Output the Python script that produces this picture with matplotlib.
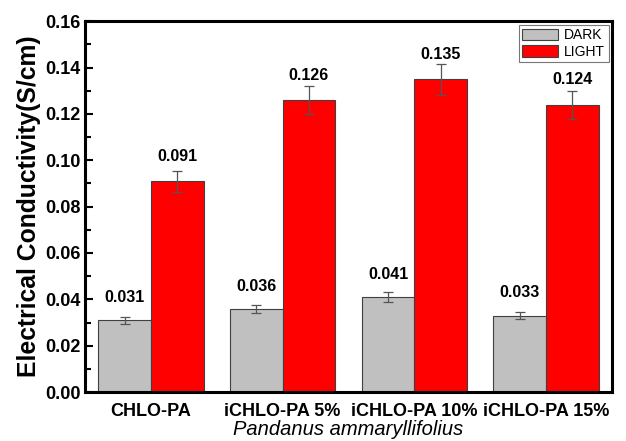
import numpy as np
import matplotlib
matplotlib.use("Agg")
import matplotlib.pyplot as plt
from matplotlib.ticker import MultipleLocator

plt.rcParams['font.family'] = ['Liberation Sans', 'DejaVu Sans']

samples = ["CHLO-PA", "iCHLO-PA 5%", "iCHLO-PA 10%", "iCHLO-PA 15%"]
dark = [0.031, 0.036, 0.041, 0.033]
light = [0.091, 0.126, 0.135, 0.124]
dark_err = [0.0015, 0.0017, 0.002, 0.0015]
light_err = [0.0045, 0.006, 0.0067, 0.006]

fig = plt.figure(figsize=(6.26, 4.41), dpi=100)
ax = fig.add_axes([0.1358, 0.111, 0.8418, 0.841])

x = np.arange(1, len(samples) + 1)
w = 0.4
err_kw = dict(ecolor='#555555', elinewidth=0.9, capsize=3.5, capthick=0.9)
ax.bar(x - w / 2, dark, w, yerr=dark_err, color='#C0C0C0', edgecolor='#404040',
       linewidth=0.8, error_kw=err_kw, label='DARK')
ax.bar(x + w / 2, light, w, yerr=light_err, color='#FF0000', edgecolor='#404040',
       linewidth=0.8, error_kw=err_kw, label='LIGHT')

# value labels above each bar
for xi, v in zip(x - w / 2, dark):
    ax.text(xi, v + 0.0065, f"{v:.3f}", ha='center', va='bottom',
            fontsize=11.5, fontweight='bold')
for xi, v in zip(x + w / 2, light):
    ax.text(xi, v + 0.0075, f"{v:.3f}", ha='center', va='bottom',
            fontsize=11.5, fontweight='bold')

ax.set_xlim(0.5, 4.5)
ax.set_ylim(0, 0.16)
ax.set_xticks(x)
ax.set_xticklabels(samples, fontsize=13, fontweight='bold')
ax.yaxis.set_major_locator(MultipleLocator(0.02))
ax.yaxis.set_minor_locator(MultipleLocator(0.01))
ax.set_yticks(ax.get_yticks())
ax.set_yticklabels([f"{t:.2f}" for t in ax.get_yticks()], fontsize=13, fontweight='bold')
ax.set_ylim(0, 0.16)
ax.tick_params(axis='y', which='major', direction='in', length=6, width=1.5, pad=3)
ax.tick_params(axis='y', which='minor', direction='in', length=4, width=1.5)
ax.tick_params(axis='x', which='both', length=0, pad=8)

for s in ax.spines.values():
    s.set_linewidth(2.2)

ax.set_ylabel("Electrical Conductivity(S/cm)", fontsize=17.8, fontweight='bold', labelpad=3)
ax.set_xlabel("Pandanus ammaryllifolius", fontsize=14.5, fontstyle='italic', labelpad=0)

leg = ax.legend(loc='upper right', bbox_to_anchor=(1.0, 1.0), borderaxespad=0.25,
                fontsize=10, frameon=True, fancybox=False, edgecolor='#555555',
                handlelength=2.6, handleheight=0.9, handletextpad=0.4,
                labelspacing=0.2, borderpad=0.25)
leg.get_frame().set_linewidth(0.8)

fig.savefig("out.png", dpi=100)
